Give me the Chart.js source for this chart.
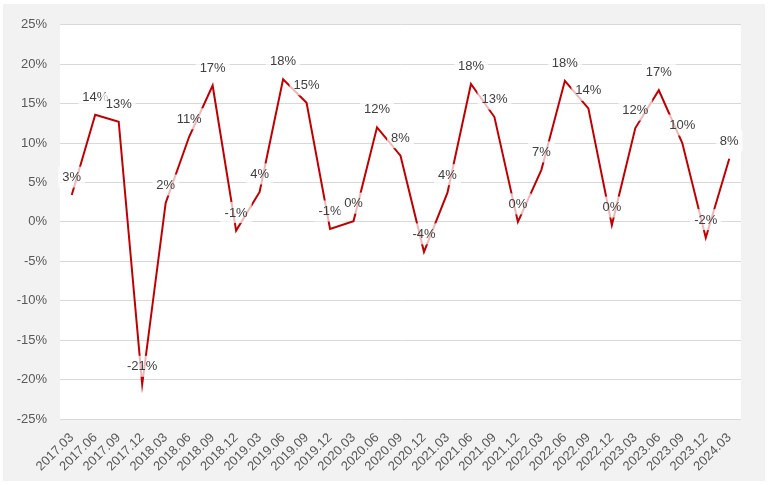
<!DOCTYPE html>
<html>
<head>
<meta charset="utf-8">
<script src="https://cdn.jsdelivr.net/npm/chart.js@4"></script>
<style>
  html, body { margin: 0; padding: 0; background: #ffffff; }
  #wrap { position: absolute; left: 3px; top: 4px; width: 762px; height: 477px; background: #f2f2f2; }
  canvas { display: block; }
</style>
</head>
<body>
<div id="wrap"><canvas id="c"></canvas></div>
<script>
const categories = ["2017.03","2017.06","2017.09","2017.12","2018.03","2018.06","2018.09","2018.12",
  "2019.03","2019.06","2019.09","2019.12","2020.03","2020.06","2020.09","2020.12",
  "2021.03","2021.06","2021.09","2021.12","2022.03","2022.06","2022.09","2022.12",
  "2023.03","2023.06","2023.09","2023.12","2024.03"];
const growth = [3.4, 13.6, 12.7, -20.6, 2.4, 10.8, 17.3, -1.1,
  3.8, 18.1, 15.1, -0.9, 0.1, 12.0, 8.4, -3.8,
  3.7, 17.5, 13.3, 0.0, 6.6, 17.9, 14.4, -0.4,
  11.9, 16.7, 10.0, -2.0, 8.0];
const yTicks = { min: -25, max: 25, step: 5 };

const FONT = "'Liberation Sans', Arial, sans-serif";

const areaBg = {
  id: 'areaBg',
  beforeDraw(chart) {
    const { ctx, chartArea: a } = chart;
    ctx.save();
    ctx.fillStyle = '#ffffff';
    ctx.fillRect(a.left, a.top, a.right - a.left, a.bottom - a.top);
    ctx.restore();
  }
};

const valueLabels = {
  id: 'valueLabels',
  afterDatasetsDraw(chart) {
    const { ctx } = chart;
    const meta = chart.getDatasetMeta(0);
    const data = chart.data.datasets[0].data;
    ctx.save();
    ctx.font = '13px ' + FONT;
    ctx.textAlign = 'center';
    ctx.textBaseline = 'middle';
    meta.data.forEach((pt, i) => {
      const txt = String(Math.round(data[i])) + '%';
      const w = ctx.measureText(txt).width;
      const cx = pt.x, cy = pt.y - 18.5;
      ctx.fillStyle = 'rgba(255,255,255,0.72)';
      ctx.fillRect(cx - w / 2 - 4, cy - 10, w + 8, 21);
      ctx.fillStyle = '#404040';
      ctx.fillText(txt, cx, cy + 1);
    });
    ctx.restore();
  }
};

new Chart(document.getElementById('c'), {
  type: 'line',
  data: {
    labels: categories,
    datasets: [{
      data: growth,
      borderColor: '#c00000',
      borderWidth: 2,
      pointRadius: 0,
      tension: 0,
      fill: false
    }]
  },
  options: {
    responsive: true,
    maintainAspectRatio: false,
    animation: false,
    layout: { padding: { top: 18, right: 24, left: 0, bottom: 0 } },
    plugins: { legend: { display: false }, tooltip: { enabled: false } },
    scales: {
      x: {
        type: 'category',
        offset: true,
        grid: { display: false, drawTicks: false },
        border: { display: false },
        ticks: {
          autoSkip: false,
          minRotation: 45,
          maxRotation: 45,
          padding: 11,
          color: '#595959',
          font: { size: 13, family: FONT }
        },
        afterFit(scale) { scale.height = 62; }
      },
      y: {
        min: yTicks.min,
        max: yTicks.max,
        grid: { color: '#d9d9d9', lineWidth: 1, drawTicks: false },
        border: { display: false },
        ticks: {
          stepSize: yTicks.step,
          padding: 13,
          color: '#595959',
          font: { size: 13, family: FONT },
          callback: v => v + '%'
        },
        afterFit(scale) { scale.width = 57; }
      }
    }
  },
  plugins: [areaBg, valueLabels]
});
</script>
</body>
</html>
